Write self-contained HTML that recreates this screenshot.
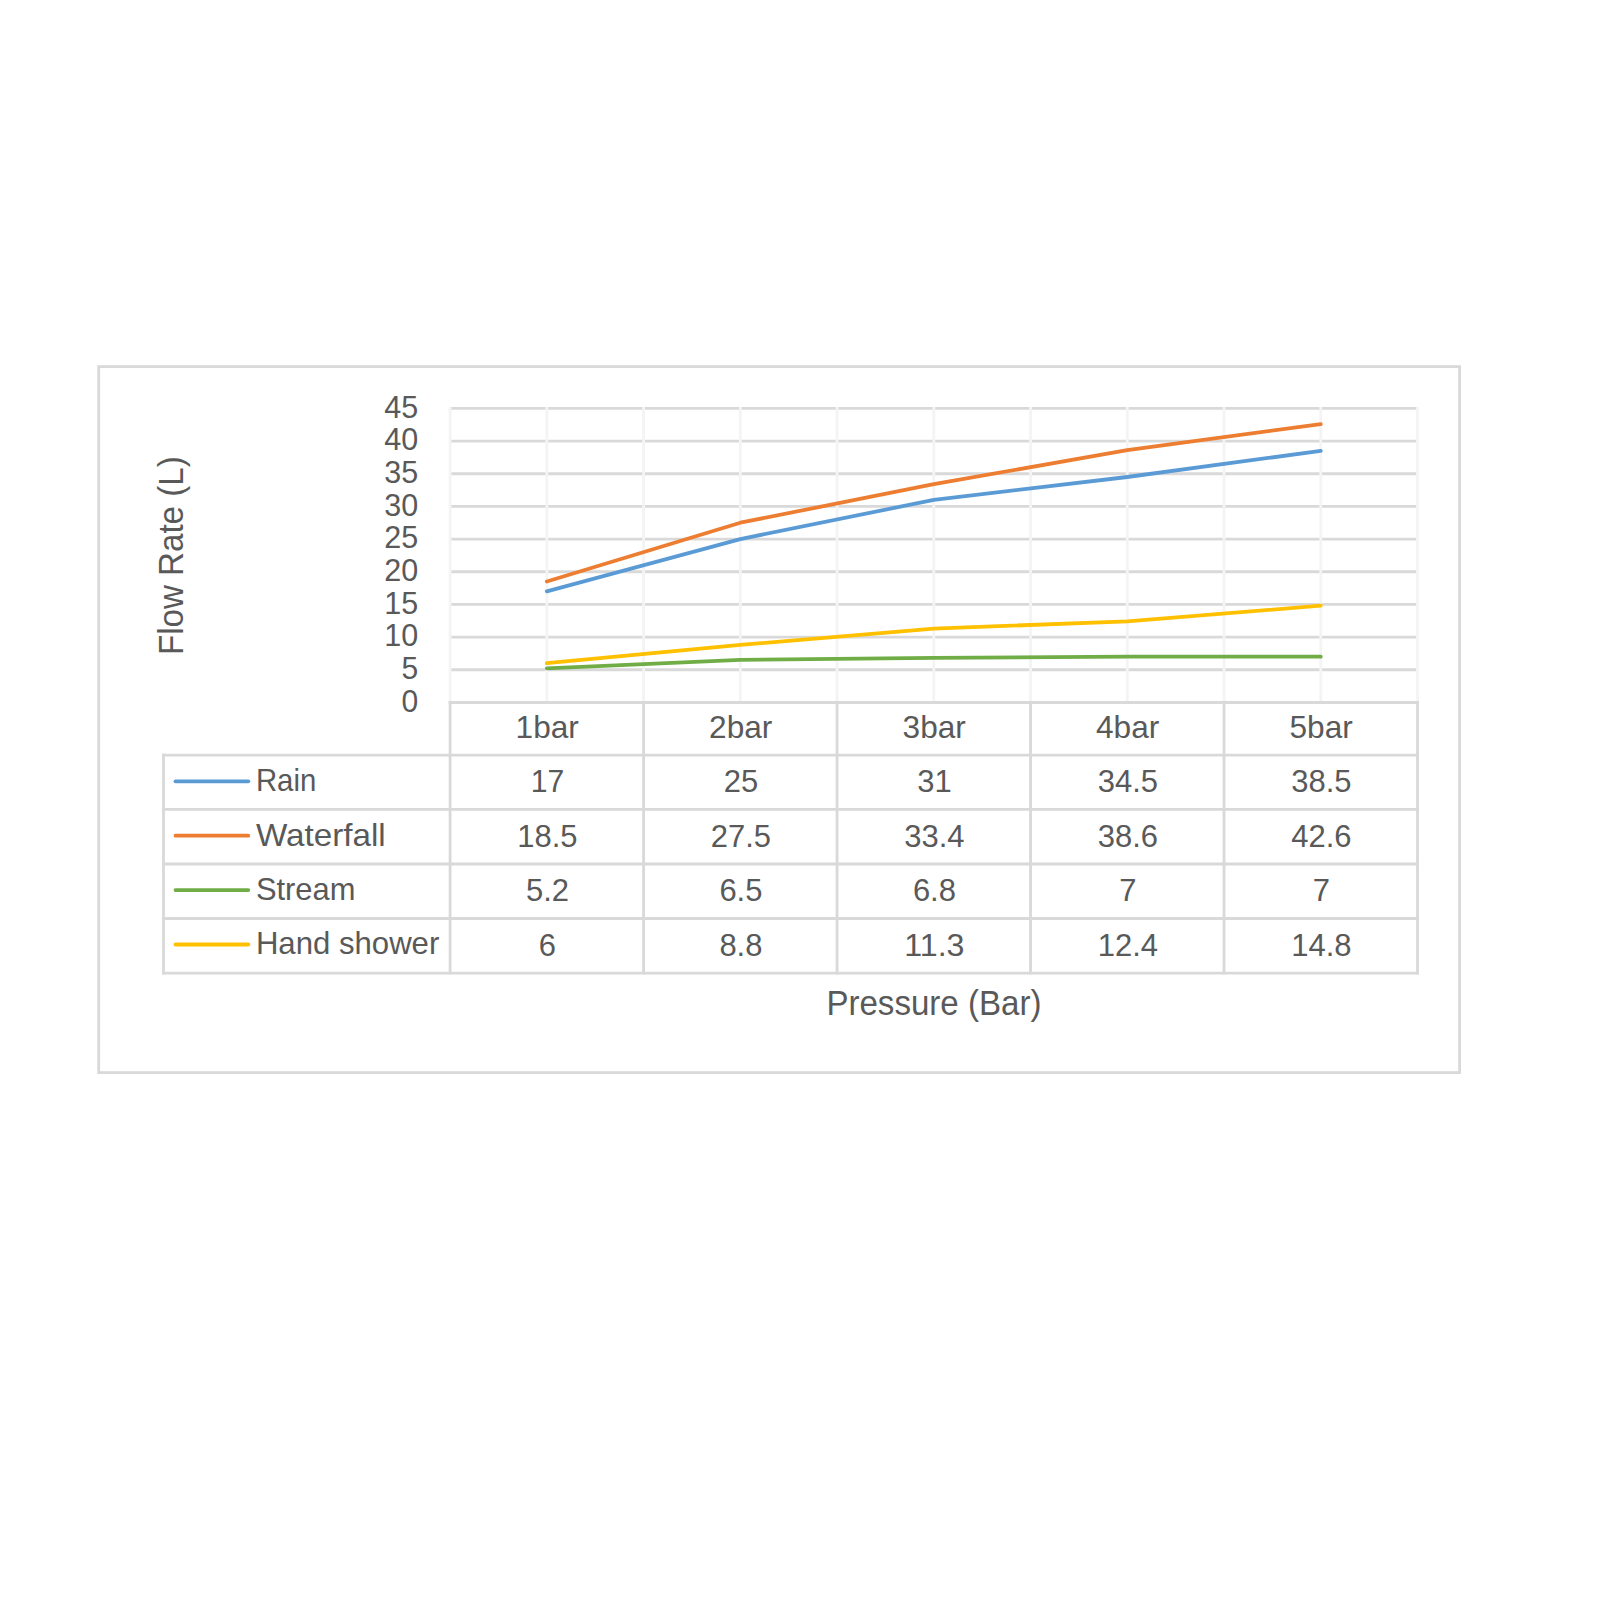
<!DOCTYPE html>
<html lang="en">
<head>
<meta charset="utf-8">
<title>Flow Rate vs Pressure</title>
<style>
html,body{margin:0;padding:0;background:#fff;}
body{width:1600px;height:1600px;overflow:hidden;}
svg{display:block;}
text{font-family:"Liberation Sans",sans-serif;fill:#595959;}
.t{font-size:31.5px;}
.h{font-size:35.2px;}
</style>
</head>
<body>
<svg width="1600" height="1600" viewBox="0 0 1600 1600">
<rect x="0" y="0" width="1600" height="1600" fill="#ffffff"/>
<rect x="98.7" y="366.6" width="1360.9" height="706" fill="#ffffff" stroke="#d9d9d9" stroke-width="2.83"/>
<g stroke="#d9d9d9" stroke-width="2.83" fill="none">
<line x1="450.1" y1="669.73" x2="1417.5" y2="669.73"/>
<line x1="450.1" y1="637.07" x2="1417.5" y2="637.07"/>
<line x1="450.1" y1="604.4" x2="1417.5" y2="604.4"/>
<line x1="450.1" y1="571.73" x2="1417.5" y2="571.73"/>
<line x1="450.1" y1="539.07" x2="1417.5" y2="539.07"/>
<line x1="450.1" y1="506.4" x2="1417.5" y2="506.4"/>
<line x1="450.1" y1="473.73" x2="1417.5" y2="473.73"/>
<line x1="450.1" y1="441.07" x2="1417.5" y2="441.07"/>
<line x1="450.1" y1="408.4" x2="1417.5" y2="408.4"/>
</g>
<g stroke="#f4f4f4" stroke-width="2.83" fill="none">
<line x1="450.1" y1="406.98" x2="450.1" y2="702.5"/>
<line x1="546.84" y1="406.98" x2="546.84" y2="702.5"/>
<line x1="643.58" y1="406.98" x2="643.58" y2="702.5"/>
<line x1="740.32" y1="406.98" x2="740.32" y2="702.5"/>
<line x1="837.06" y1="406.98" x2="837.06" y2="702.5"/>
<line x1="933.8" y1="406.98" x2="933.8" y2="702.5"/>
<line x1="1030.54" y1="406.98" x2="1030.54" y2="702.5"/>
<line x1="1127.28" y1="406.98" x2="1127.28" y2="702.5"/>
<line x1="1224.02" y1="406.98" x2="1224.02" y2="702.5"/>
<line x1="1320.76" y1="406.98" x2="1320.76" y2="702.5"/>
<line x1="1417.5" y1="406.98" x2="1417.5" y2="702.5"/>
</g>
<g stroke="#d9d9d9" stroke-width="2.83" fill="none" stroke-linecap="square">
<line x1="450.1" y1="702.5" x2="1417.5" y2="702.5"/>
<line x1="163.5" y1="755.1" x2="1417.5" y2="755.1"/>
<line x1="163.5" y1="809.4" x2="1417.5" y2="809.4"/>
<line x1="163.5" y1="864" x2="1417.5" y2="864"/>
<line x1="163.5" y1="918.5" x2="1417.5" y2="918.5"/>
<line x1="163.5" y1="973.2" x2="1417.5" y2="973.2"/>
<line x1="163.5" y1="755.1" x2="163.5" y2="973.2"/>
<line x1="450.1" y1="702.5" x2="450.1" y2="973.2"/>
<line x1="643.58" y1="702.5" x2="643.58" y2="973.2"/>
<line x1="837.06" y1="702.5" x2="837.06" y2="973.2"/>
<line x1="1030.54" y1="702.5" x2="1030.54" y2="973.2"/>
<line x1="1224.02" y1="702.5" x2="1224.02" y2="973.2"/>
<line x1="1417.5" y1="702.5" x2="1417.5" y2="973.2"/>
</g>
<g fill="none" stroke-width="3.8" stroke-linecap="round" stroke-linejoin="round">
<polyline stroke="#5b9bd5" points="546.84,591.33 740.32,539.07 933.8,499.87 1127.28,477 1320.76,450.87"/>
<polyline stroke="#ed7d31" points="546.84,581.53 740.32,522.73 933.8,484.19 1127.28,450.21 1320.76,424.08"/>
<polyline stroke="#70ad47" points="546.84,668.43 740.32,659.93 933.8,657.97 1127.28,656.67 1320.76,656.67"/>
<polyline stroke="#ffc000" points="546.84,663.2 740.32,644.91 933.8,628.57 1127.28,621.39 1320.76,605.71"/>
<line stroke="#5b9bd5" x1="175.5" y1="781.3" x2="248.3" y2="781.3"/>
<line stroke="#ed7d31" x1="175.5" y1="835.7" x2="248.3" y2="835.7"/>
<line stroke="#70ad47" x1="175.5" y1="890.1" x2="248.3" y2="890.1"/>
<line stroke="#ffc000" x1="175.5" y1="944.5" x2="248.3" y2="944.5"/>
</g>
<g class="t" text-anchor="end">
<text x="418.2" y="711.7" textLength="16.73" lengthAdjust="spacingAndGlyphs">0</text>
<text x="418.2" y="679.03" textLength="16.73" lengthAdjust="spacingAndGlyphs">5</text>
<text x="418.2" y="646.37" textLength="33.96" lengthAdjust="spacingAndGlyphs">10</text>
<text x="418.2" y="613.7" textLength="33.96" lengthAdjust="spacingAndGlyphs">15</text>
<text x="418.2" y="581.03" textLength="33.96" lengthAdjust="spacingAndGlyphs">20</text>
<text x="418.2" y="548.37" textLength="33.96" lengthAdjust="spacingAndGlyphs">25</text>
<text x="418.2" y="515.7" textLength="33.96" lengthAdjust="spacingAndGlyphs">30</text>
<text x="418.2" y="483.03" textLength="33.96" lengthAdjust="spacingAndGlyphs">35</text>
<text x="418.2" y="450.37" textLength="33.96" lengthAdjust="spacingAndGlyphs">40</text>
<text x="418.2" y="417.7" textLength="33.96" lengthAdjust="spacingAndGlyphs">45</text>
</g>
<g class="t" text-anchor="middle">
<text x="547.24" y="737.5" textLength="63.24" lengthAdjust="spacingAndGlyphs">1bar</text>
<text x="740.72" y="737.5" textLength="63.24" lengthAdjust="spacingAndGlyphs">2bar</text>
<text x="934.2" y="737.5" textLength="63.24" lengthAdjust="spacingAndGlyphs">3bar</text>
<text x="1127.68" y="737.5" textLength="63.24" lengthAdjust="spacingAndGlyphs">4bar</text>
<text x="1321.16" y="737.5" textLength="63.24" lengthAdjust="spacingAndGlyphs">5bar</text>
<text x="547.44" y="792.1" textLength="33.46" lengthAdjust="spacingAndGlyphs">17</text>
<text x="740.92" y="792.1" textLength="34.46" lengthAdjust="spacingAndGlyphs">25</text>
<text x="934.4" y="792.1" textLength="34.46" lengthAdjust="spacingAndGlyphs">31</text>
<text x="1127.88" y="792.1" textLength="60.28" lengthAdjust="spacingAndGlyphs">34.5</text>
<text x="1321.36" y="792.1" textLength="60.28" lengthAdjust="spacingAndGlyphs">38.5</text>
<text x="547.44" y="846.6" textLength="60.28" lengthAdjust="spacingAndGlyphs">18.5</text>
<text x="740.92" y="846.6" textLength="60.28" lengthAdjust="spacingAndGlyphs">27.5</text>
<text x="934.4" y="846.6" textLength="60.28" lengthAdjust="spacingAndGlyphs">33.4</text>
<text x="1127.88" y="846.6" textLength="60.28" lengthAdjust="spacingAndGlyphs">38.6</text>
<text x="1321.36" y="846.6" textLength="60.28" lengthAdjust="spacingAndGlyphs">42.6</text>
<text x="547.44" y="901.1" textLength="43.05" lengthAdjust="spacingAndGlyphs">5.2</text>
<text x="740.92" y="901.1" textLength="43.05" lengthAdjust="spacingAndGlyphs">6.5</text>
<text x="934.4" y="901.1" textLength="43.05" lengthAdjust="spacingAndGlyphs">6.8</text>
<text x="1127.88" y="901.1" textLength="17.23" lengthAdjust="spacingAndGlyphs">7</text>
<text x="1321.36" y="901.1" textLength="17.23" lengthAdjust="spacingAndGlyphs">7</text>
<text x="547.44" y="955.6" textLength="17.23" lengthAdjust="spacingAndGlyphs">6</text>
<text x="740.92" y="955.6" textLength="43.05" lengthAdjust="spacingAndGlyphs">8.8</text>
<text x="934.4" y="955.6" textLength="60.28" lengthAdjust="spacingAndGlyphs">11.3</text>
<text x="1127.88" y="955.6" textLength="60.28" lengthAdjust="spacingAndGlyphs">12.4</text>
<text x="1321.36" y="955.6" textLength="60.28" lengthAdjust="spacingAndGlyphs">14.8</text>
</g>
<g class="t">
<text x="255.9" y="791.2" textLength="60.41" lengthAdjust="spacingAndGlyphs">Rain</text>
<text x="255.9" y="845.6" textLength="129.84" lengthAdjust="spacingAndGlyphs">Waterfall</text>
<text x="255.9" y="900" textLength="99.58" lengthAdjust="spacingAndGlyphs">Stream</text>
<text x="255.9" y="954.4" textLength="183.42" lengthAdjust="spacingAndGlyphs">Hand shower</text>
</g>
<g class="h" text-anchor="middle">
<text x="933.9" y="1014.5" textLength="215.05" lengthAdjust="spacingAndGlyphs">Pressure (Bar)</text>
<text transform="translate(182.6 555.7) rotate(-90)" x="0" y="0" textLength="198.8" lengthAdjust="spacingAndGlyphs">Flow Rate (L)</text>
</g>
</svg>
</body>
</html>
